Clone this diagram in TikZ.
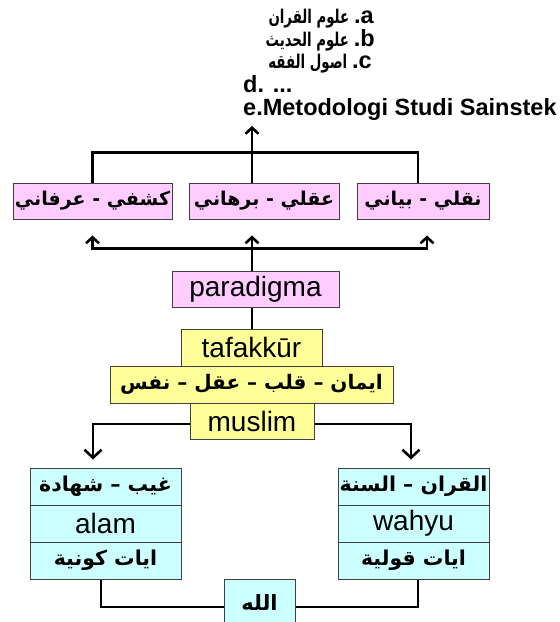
\documentclass[tikz,border=0pt]{standalone}
\usepackage{fontspec}
\setmainfont{Liberation Sans}
\newfontfamily\arabfont[Script=Arabic]{DejaVu Sans}
\TeXXeTstate=1
\usetikzlibrary{arrows.meta,calc}
\definecolor{pinkfill}{HTML}{FFCCFF}
\definecolor{yelfill}{HTML}{FFFF99}
\definecolor{cyanfill}{HTML}{CCFFFF}
\definecolor{edgegray}{HTML}{404040}
\newcommand\arf[1]{\fontsize{#1}{#1}\arabfont\bfseries}
\newcommand\lat[1]{{\fontsize{28}{30}\selectfont #1}}
\newcommand\toptxt[1]{{\fontsize{23.5}{24}\selectfont\bfseries #1}}
\begin{document}
\begin{tikzpicture}[x=1pt,y=-1pt,
  box/.style={draw=edgegray, line width=1pt, inner sep=0pt, text=black},
  pinkbox/.style={box, fill=pinkfill, minimum height=36pt},
  yelbox/.style={box, fill=yelfill, minimum height=37pt},
  cyanbox/.style={box, fill=cyanfill, minimum width=151pt, minimum height=37pt},
  conn/.style={line width=2.6pt, black},
  smallhead/.style={-{Straight Barb[length=6pt,width=13pt]}},
  twohead/.style={{Straight Barb[length=6pt,width=13pt]}-{Straight Barb[length=6pt,width=13pt]}},
  bighead/.style={-{Straight Barb[length=8pt,width=17pt]}},
  toptext/.style={inner sep=0pt}
]
\useasboundingbox (0,0) rectangle (560,622);
\coordinate (cx) at (252,0);
\coordinate (toptip) at (252,126);

% top list
\node[toptext, anchor=base east] (ta) at (374,23) {\scalebox{0.74}[1.05]{\arf{18}\beginR علوم القران\endR}\hspace{5pt}\toptxt{.a}};
\node[toptext, anchor=base east] (tb) at (375,46) {\scalebox{0.74}[1.05]{\arf{18}\beginR علوم الحديث\endR}\hspace{5pt}\toptxt{.b}};
\node[toptext, anchor=base east] (tc) at (372,68) {\scalebox{0.74}[1.05]{\arf{18}\beginR اصول الفقه\endR}\hspace{5pt}\toptxt{.c}};
\node[toptext, anchor=base west] (td) at (243,92) {\toptxt{d. ...}};
\node[toptext, anchor=base west] (te) at (243,115) {\toptxt{e.Metodologi Studi Sainstek}};

% pink row
\node[pinkbox, minimum width=159pt] (K) at (92.5,201) {\arf{19}\beginR كشفي - عرفاني\endR};
\node[pinkbox, minimum width=150pt] (A) at (264,201) {\arf{19}\beginR عقلي - برهاني\endR};
\node[pinkbox, minimum width=132pt] (N) at (423,201) {\arf{19}\beginR نقلي - بياني\endR};

% centre column
\node[pinkbox, minimum width=167pt] (P) at (255.5,289) {\lat{paradigma}};
\node[yelbox, minimum width=141pt] (T) at (251.5,347.5) {\lat{tafakkūr}};
\node[yelbox, minimum width=283pt] (Q) at (251.5,384.5) {\arf{20}\beginR ايمان – قلب – عقل – نفس\endR};
\node[yelbox, minimum width=124pt, minimum height=36pt] (M) at (252,421) {\lat{muslim}};

% stacks
\node[cyanbox] (L1) at (105.5,486.5) {\arf{20.5}\beginR غيب – شهادة\endR};
\node[cyanbox] (L2) at (105.5,523.5) {\lat{alam}};
\node[cyanbox] (L3) at (105.5,560.5) {\arf{20.5}\beginR ايات كونية\endR};
\node[cyanbox] (R1) at (413.5,486.5) {\arf{20.5}\beginR القران – السنة\endR};
\node[cyanbox] (R2) at (413.5,523.5) {\lat{wahyu}};
\node[cyanbox] (R3) at (413.5,560.5) {\arf{20.5}\beginR ايات قولية\endR};

% Allah
\node[box, fill=cyanfill, minimum width=71pt, minimum height=47pt] (G) at (259.5,602.5) {\arf{21}\beginR الله\endR};

% connectors
\draw[conn, smallhead] (A.north -| cx) -- (toptip);
\draw[conn] (K.north) -- ($(K.north)+(0,-30)$) -| ($(N.north)+(-5,0)$);
\draw[conn, smallhead] (P.north -| cx) -- ($(A.south -| cx)+(0,16)$);
\draw[conn, twohead] ($(K.south)+(0,16)$) -- ($(K.south)+(0,29)$) -| ($(N.south)+(4,16)$);
\draw[conn] (P.south -| cx) -- (T.north -| cx);
\draw[conn, bighead] ($(M.west)+(0,3)$) -| ($(L1.north)+(-12.5,-8)$);
\draw[conn, bighead] ($(M.east)+(0,3)$) -| ($(R1.north)+(-2.5,-8)$);
\draw[conn] ($(L3.south)+(-4.5,0)$) |- ($(G.west)+(0,4.5)$);
\draw[conn] ($(R3.south)+(4.5,0)$) |- ($(G.east)+(0,4.5)$);
\end{tikzpicture}
\end{document}
